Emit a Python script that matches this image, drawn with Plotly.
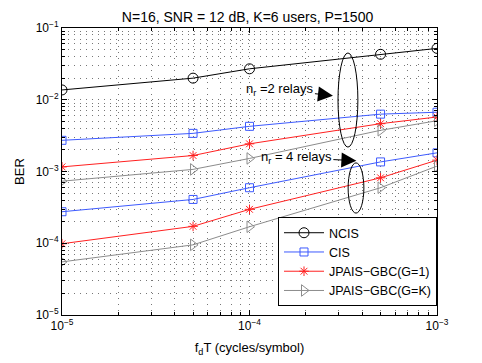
import plotly.graph_objects as go

fdT = [1e-5, 5e-5, 1e-4, 5e-4, 1e-3]

ncis_2 = [0.0137, 0.0200, 0.0270, 0.0430, 0.0520]
cis_2 = [0.00272, 0.00340, 0.00426, 0.00630, 0.00670]
g1_2 = [0.00116, 0.00167, 0.00243, 0.00464, 0.00575]
gk_2 = [0.000733, 0.00107, 0.00152, 0.00375, 0.00510]

cis_4 = [0.000275, 0.000408, 0.000594, 0.00136, 0.00182]
g1_4 = [0.0000985, 0.000172, 0.000297, 0.000817, 0.00144]
gk_4 = [0.000055, 0.000095, 0.000170, 0.000594, 0.00119]

BLACK = "#000000"
BLUE = "#3d5afe"
RED = "#ff2020"
GRAY = "#8c8c8c"

series = [
    ("NCIS", ncis_2, BLACK, "circle-open", 10, True),
    ("CIS", cis_2, BLUE, "square-open", 8, True),
    ("JPAIS\u2212GBC(G=1)", g1_2, RED, "asterisk-open", 8, True),
    ("JPAIS\u2212GBC(G=K)", gk_2, GRAY, "triangle-right-open", 10, True),
    ("CIS", cis_4, BLUE, "square-open", 8, False),
    ("JPAIS\u2212GBC(G=1)", g1_4, RED, "asterisk-open", 8, False),
    ("JPAIS\u2212GBC(G=K)", gk_4, GRAY, "triangle-right-open", 10, False),
]

fig = go.Figure()
for name, vals, col, sym, sz, leg in series:
    fig.add_trace(go.Scatter(
        x=fdT, y=vals, name=name, mode="lines+markers", showlegend=leg,
        line=dict(color=col, width=1),
        marker=dict(symbol=sym, size=sz, color=col, line=dict(color=col, width=1)),
    ))

# minor grid positions 2..9 of each decade
xminor = [m * 10.0 ** e for e in (-5, -4) for m in range(2, 10)]
yminor = [m * 10.0 ** e for e in (-5, -4, -3, -2) for m in range(2, 10)]

grid = dict(gridcolor="#777777", griddash="1px,5px", gridwidth=1)
fig.update_xaxes(
    type="log", range=[-5, -3], automargin=False,
    tickvals=[1e-5, 1e-4, 1e-3],
    ticktext=["10<sup>\u22125</sup>", "10<sup>\u22124</sup>", "10<sup>\u22123</sup>"],
    ticks="inside", ticklen=5, tickcolor="black",
    showline=True, linecolor="black", linewidth=1, mirror="ticks",
    minor=dict(tickmode="array", tickvals=xminor, showgrid=True, ticks="inside",
               ticklen=3, tickcolor="black", **grid),
    title=dict(text="f<sub>d</sub>T (cycles/symbol)", standoff=10, font=dict(size=13)),
    zeroline=False, **grid,
)
fig.update_yaxes(
    type="log", range=[-5, -1], automargin=False,
    tickvals=[1e-5, 1e-4, 1e-3, 1e-2, 1e-1],
    ticktext=["10<sup>\u22125</sup>", "10<sup>\u22124</sup>", "10<sup>\u22123</sup>",
              "10<sup>\u22122</sup>", "10<sup>\u22121</sup>"],
    ticks="inside", ticklen=5, tickcolor="black",
    showline=True, linecolor="black", linewidth=1, mirror="ticks",
    minor=dict(tickmode="array", tickvals=yminor, showgrid=True, ticks="inside",
               ticklen=3, tickcolor="black", **grid),
    title=dict(text="BER", standoff=8, font=dict(size=13)),
    zeroline=False, **grid,
)

# ellipses grouping the relay cases (paper units)
fig.add_shape(type="circle", xref="paper", yref="paper", x0=0.736, x1=0.789, y0=0.585, y1=0.913,
              line=dict(color="black", width=1))
fig.add_shape(type="circle", xref="paper", yref="paper", x0=0.763, x1=0.805, y0=0.355, y1=0.530,
              line=dict(color="black", width=1))

fig.add_annotation(x=-3.555, y=-1.944, xref="x", yref="y", text="n<sub>r</sub> =2 relays",
                   showarrow=True, arrowhead=2, arrowsize=3, arrowwidth=1, arrowcolor="black",
                   ax=-53, ay=-6, font=dict(size=13, color="black"))
fig.add_annotation(x=-3.43, y=-2.85, xref="x", yref="y", text="n<sub>r</sub> = 4 relays",
                   showarrow=True, arrowhead=2, arrowsize=3, arrowwidth=1, arrowcolor="black",
                   ax=-60, ay=-3, font=dict(size=13, color="black"))

fig.update_layout(
    width=482, height=363,
    margin=dict(l=54, r=53, t=20, b=56),
    paper_bgcolor="white", plot_bgcolor="white",
    font=dict(family="Liberation Sans, Arial, sans-serif", size=12, color="black"),
    title=dict(text="N=16, SNR = 12 dB, K=6 users, P=1500", x=0.497, xanchor="center",
               y=1.0, yanchor="top", pad=dict(t=4), font=dict(size=14)),
    legend=dict(x=1, y=0.031, xanchor="right", yanchor="bottom", bgcolor="white",
                bordercolor="black", borderwidth=1, font=dict(size=12.5),
                tracegroupgap=0, itemwidth=40),
    showlegend=True,
)

fig.write_html("out.html")
